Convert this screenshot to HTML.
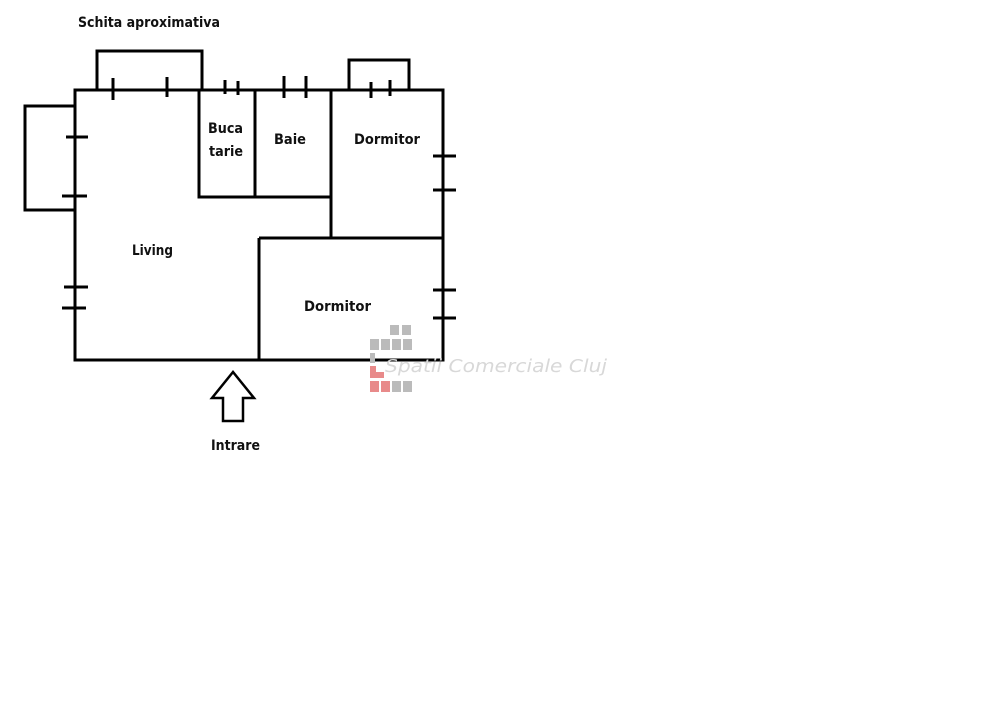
<!DOCTYPE html>
<html><head><meta charset="utf-8"><style>
html,body{margin:0;padding:0;background:#fff;width:981px;height:720px;overflow:hidden}
svg{display:block}
text{font-family:"DejaVu Sans","Liberation Sans",sans-serif;font-weight:bold;font-size:14px;fill:#111}
</style></head><body>
<svg width="981" height="720" viewBox="0 0 981 720">
<g stroke="#000" stroke-width="3" fill="none">
<rect x="75" y="90" width="368" height="270"/>
<rect x="97" y="51" width="105" height="39"/>
<rect x="349" y="60" width="60" height="30"/>
<rect x="25" y="106" width="50" height="104"/>
<path d="M199 90V197H331M255 90V197M331 90V238M259 238H443M259 238V360"/>
<path d="M113 78V100M167 77V97M225 80V94M238 81V95M284 76V98M306 76V98M371 82V98M390 80V96"/>
<path d="M66 137H88M62 196H87M64 287H88M62 308H86M433 156H456M433 190H456M433 290H456M433 318H456"/>
<path d="M233 372L212 398H223V421H243V398H254Z" stroke-width="2.5"/>
</g>
<g fill="#bbb">
<rect x="390" y="325" width="9" height="10"/><rect x="402" y="325" width="9" height="10"/>
<rect x="370" y="339" width="9" height="11"/><rect x="381" y="339" width="9" height="11"/><rect x="392" y="339" width="9" height="11"/><rect x="403" y="339" width="9" height="11"/>
<rect x="370" y="353" width="5" height="10"/>
<rect x="392" y="381" width="9" height="11"/><rect x="403" y="381" width="9" height="11"/>
</g>
<g fill="#e88a8a">
<rect x="370" y="366" width="6" height="12"/><rect x="376" y="372" width="8" height="6"/>
<rect x="370" y="381" width="9" height="11"/><rect x="381" y="381" width="9" height="11"/>
</g>
<text x="385" y="372" textLength="222" lengthAdjust="spacingAndGlyphs" style="font-weight:normal;font-style:italic;font-size:18px;fill:#d8d8d8">Spatii Comerciale Cluj</text>
<text x="78" y="27" textLength="142" lengthAdjust="spacingAndGlyphs">Schita aproximativa</text>
<text x="208" y="133" textLength="35" lengthAdjust="spacingAndGlyphs">Buca</text>
<text x="209" y="156" textLength="34" lengthAdjust="spacingAndGlyphs">tarie</text>
<text x="274" y="144" textLength="32" lengthAdjust="spacingAndGlyphs">Baie</text>
<text x="354" y="144" textLength="66" lengthAdjust="spacingAndGlyphs">Dormitor</text>
<text x="132" y="255" textLength="41" lengthAdjust="spacingAndGlyphs">Living</text>
<text x="304" y="311" textLength="67" lengthAdjust="spacingAndGlyphs">Dormitor</text>
<text x="211" y="450" textLength="49" lengthAdjust="spacingAndGlyphs">Intrare</text>
</svg>
</body></html>
